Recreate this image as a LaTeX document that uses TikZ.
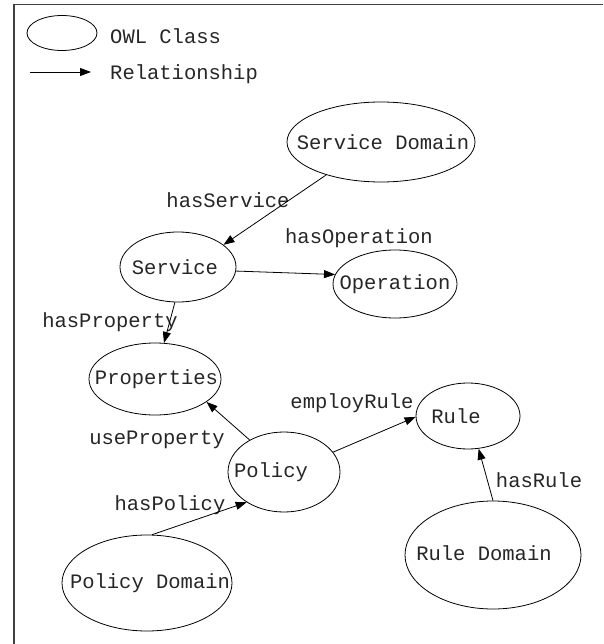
\documentclass[tikz,border=0pt]{standalone}
\usepackage{fontspec}
\setmonofont{Liberation Mono}
\usetikzlibrary{shapes.geometric,arrows.meta}
\newcommand{\zb}[1]{\makebox[0pt]{#1}}
\begin{document}
\begin{tikzpicture}[x=1pt,y=-1pt,
  cls/.style={draw=black,line width=0.8pt,ellipse,inner sep=0pt},
  txt/.style={font=\ttfamily\fontsize{20.5}{24}\selectfont,inner sep=0pt,text=black!85},
  rel/.style={draw=black,line width=0.8pt,-{Triangle[length=11pt,width=8pt]}}]
\useasboundingbox (0,0) rectangle (603,644);
% frame
\coordinate (fl) at (14,644);
\coordinate (fc) at (14,4.5);
\coordinate (fr) at (603,4.5);
\draw[line width=1.3pt,black!75] (fl) -- (fc) -- (fr);
% legend
\node[cls,minimum width=70pt,minimum height=35pt] (lgell) at (62,33) {};
\node[txt,anchor=west] (lgcls) at (110,36) {OWL Class};
\coordinate (lga) at (30,72);
\coordinate (lgb) at (91,72);
\draw[rel] (lga) -- (lgb);
\node[txt,anchor=west] (lgrel) at (110,74) {Relationship};
% classes
\begin{scope}[every node/.append style={txt}]
\node[cls,minimum width=188pt,minimum height=80pt] (sd) at (381,142) {\zb{\kern4pt Service Domain}};
\node[cls,minimum width=116pt,minimum height=70pt] (svc) at (178,267) {\zb{Service\kern6pt}};
\node[cls,minimum width=124pt,minimum height=68pt] (op) at (395,284) {\zb{Operation}};
\node[cls,minimum width=132pt,minimum height=72pt] (prop) at (155,379) {\zb{\kern3pt Properties}};
\node[cls,minimum width=112pt,minimum height=80pt] (pol) at (284,472) {\raisebox{-3pt}{\zb{\kern-26pt Policy}}};
\node[cls,minimum width=104pt,minimum height=66pt] (rule) at (468,416) {\raisebox{-4pt}{\zb{\kern-24pt Rule}}};
\node[cls,minimum width=176pt,minimum height=108pt] (rd) at (493,555) {\raisebox{3pt}{\zb{\kern-18pt Rule Domain}}};
\node[cls,minimum width=170pt,minimum height=96pt] (pd) at (147,583) {\raisebox{-4pt}{\zb{\kern6pt Policy Domain}}};
% edge labels
\node (lhs) at (228,200) {hasService};
\node (lho) at (359,238) {hasOperation};
\node (lhp) at (110,322) {hasProperty};
\node (lup) at (157,440) {useProperty};
\node (ler) at (352,403) {employRule};
\node (lhr) at (539,480) {hasRule};
\node (lhpo) at (170,505) {hasPolicy};
\end{scope}
% relationships
\draw[rel] (sd.211) -- (svc.26);
\draw[rel] (svc.356) -- (op.171);
\draw[rel] (svc.265) -- (prop.76);
\draw[rel] (pol.137) -- (prop.336);
\draw[rel] (pol.22) -- (rule.181);
\draw[rel] (rd.90) -- (rule.288);
\draw[rel] (pd.84) -- (pol.219);
\end{tikzpicture}
\end{document}
